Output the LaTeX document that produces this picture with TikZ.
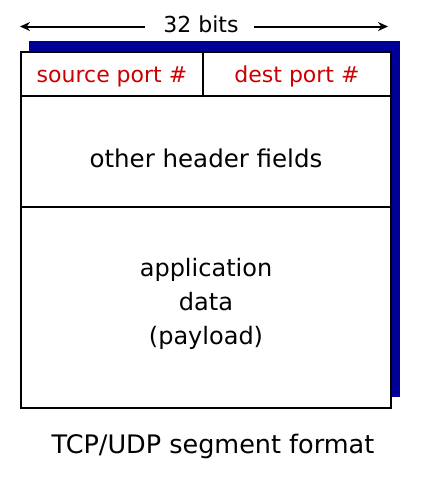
\documentclass[tikz,border=0pt]{standalone}
\usepackage{fontspec}
\setmainfont{DejaVu Sans}
\usetikzlibrary{arrows.meta,positioning}
\definecolor{ShadowBlue}{HTML}{000099}
\definecolor{FieldRed}{HTML}{CC0000}
\tikzset{
    % Base field cell
    fieldnode/.style={
        draw=black,
        fill=white,
        line width=2pt,
        inner sep=0pt,
        align=center,
        font=\fontsize{24}{34}\selectfont
    },
    % Port field cell
    portnode/.style={
        fieldnode,
        text=FieldRed,
        font=\fontsize{22}{26}\selectfont,
        text height=21pt,
        minimum height=44pt
    },
    % Wide field cell
    widenode/.style={
        fieldnode,
        minimum width=370pt
    },
    % Shadow behind the segment
    shadownode/.style={
        fill=ShadowBlue,
        inner sep=0pt,
        minimum width=371pt,
        minimum height=356pt
    },
    % Plain label
    labelnode/.style={
        inner sep=0pt,
        font=\fontsize{25.5}{28}\selectfont
    },
    % Width arrow
    widtharrow/.style={
        -{Stealth[length=10pt,width=9pt]},
        line width=2pt,
        draw=black
    }
}
\begin{document}
\begin{tikzpicture}[x=1pt, y=-1pt]
        \useasboundingbox (0,0) rectangle (422,491);

        % Shadow
        \node[shadownode] (shadow) at (214.5,219) {};

        % Fields
        \node[portnode, minimum width=182pt] (src) at (112,74) {source port \#};
        \node[portnode, minimum width=188pt] (dst) at (297,74) {dest port \#};
        \node[widenode, minimum height=111pt, font=\fontsize{24.5}{34}\selectfont, text height=33pt] (hdr) at (206,151.5) {other header fields};
        \node[widenode, minimum height=201pt, text depth=12pt] (app) at (206,307.5) {application\\data\\(payload)};

        % Width label and arrows
        \node[labelnode, font=\fontsize{22}{26}\selectfont] (bits) at (201,24) {32 bits};
        \coordinate (lend) at (20,26.5);
        \coordinate (rend) at (388,26.5);
        \draw[widtharrow] ([xshift=-18pt]bits.west |- lend) -- (lend);
        \draw[widtharrow] ([xshift=15pt]bits.east |- rend) -- (rend);

        % Caption
        \node[labelnode] (caption) at (213,446.5) {TCP/UDP segment format};
    \end{tikzpicture}
\end{document}
